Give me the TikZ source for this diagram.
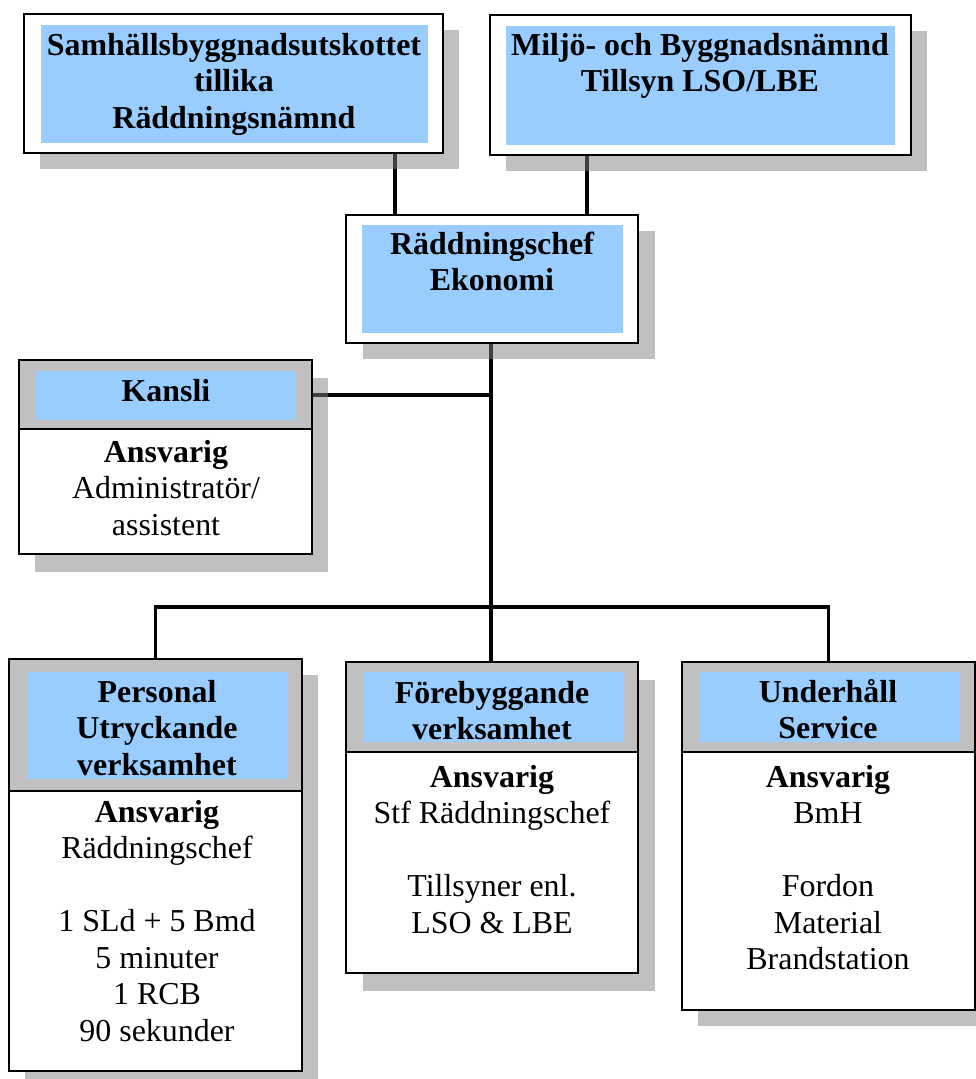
\documentclass[tikz,border=0pt]{standalone}
\usepackage{fontspec}
\setmainfont{Liberation Serif}
\usepackage{tikz}
\usetikzlibrary{calc}
\pgfdeclarelayer{edgelayer}
\pgfdeclarelayer{shadowlayer}
\pgfdeclarelayer{nodelayer}
\pgfsetlayers{edgelayer,shadowlayer,nodelayer,main}
\definecolor{boxblue}{RGB}{153,204,255}
\definecolor{headgray}{RGB}{192,192,192}
\tikzstyle{none}=[inner sep=0pt]
\tikzstyle{outer_box}=[fill=white, draw=black, line width=0.8pt, shape=rectangle, inner sep=0pt]
\tikzstyle{head_box}=[fill=headgray, draw=black, line width=0.8pt, shape=rectangle, inner sep=0pt]
\tikzstyle{blue_box}=[fill=boxblue, draw=none, shape=rectangle, inner sep=0pt]
\tikzstyle{shadow_box}=[fill={rgb,255: red,128; green,128; blue,128}, fill opacity=0.5, draw=none, shape=rectangle, inner sep=0pt]
\tikzstyle{head_text}=[inner sep=0pt, align=center, anchor=north, font=\bfseries]
\tikzstyle{body_text}=[inner sep=0pt, align=center, anchor=north]
\tikzstyle{main_connector}=[-, draw=black, line width=1.5pt]

\begin{document}
\fontsize{12}{13.7}\selectfont
\begin{tikzpicture}[x=0.376pt, y=-0.376pt]
    \useasboundingbox (0,0) rectangle (976,1079);
    \clip (0,0) rectangle (976,1079);
    \begin{pgfonlayer}{nodelayer}
        % top boards
        \node [style={outer_box}, minimum width=157.5pt, minimum height=52.3pt] (A) at (233.5, 83.5) {};
        \node [style={blue_box}, minimum width=145.5pt, minimum height=44.4pt] (Ab) at (234.5, 84) {};
        \node [style={outer_box}, minimum width=158.3pt, minimum height=52.6pt] (B) at (700.5, 85) {};
        \node [style={blue_box}, minimum width=146.3pt, minimum height=44.7pt] (Bb) at (700.5, 85.5) {};

        % chief
        \node [style={outer_box}, minimum width=109.8pt, minimum height=48.1pt] (C) at (492, 279) {};
        \node [style={blue_box}, minimum width=98.1pt, minimum height=40.6pt] (Cb) at (492.5, 279) {};

        % office
        \node [style={outer_box}, minimum width=110.2pt, minimum height=72.9pt] (D) at (165.5, 457) {};
        \node [style={head_box}, minimum width=110.2pt, minimum height=25.9pt] (Dh) at (165.5, 394.5) {};
        \node [style={blue_box}, minimum width=97.8pt, minimum height=18.4pt] (Db) at (166, 395.5) {};

        % departments
        \node [style={outer_box}, minimum width=110.2pt, minimum height=154.9pt] (E) at (155.5, 865) {};
        \node [style={head_box}, minimum width=110.2pt, minimum height=49.6pt] (Eh) at (155.5, 725) {};
        \node [style={blue_box}, minimum width=97.8pt, minimum height=40.2pt] (Eb) at (157, 725.5) {};

        \node [style={outer_box}, minimum width=109.8pt, minimum height=116.9pt] (F) at (492, 817.5) {};
        \node [style={head_box}, minimum width=109.8pt, minimum height=33.8pt] (Fh) at (492, 707) {};
        \node [style={blue_box}, minimum width=97.8pt, minimum height=26.3pt] (Fb) at (493, 707) {};

        \node [style={outer_box}, minimum width=110.2pt, minimum height=130.8pt] (G) at (828.5, 836) {};
        \node [style={head_box}, minimum width=110.2pt, minimum height=33.8pt] (Gh) at (828.5, 707) {};
        \node [style={blue_box}, minimum width=97.8pt, minimum height=26.3pt] (Gb) at (829, 707) {};
    \end{pgfonlayer}

    \begin{pgfonlayer}{shadowlayer}
        \node [style={shadow_box}, minimum width=157.5pt, minimum height=52.3pt] (As) at (249.5, 99.5) {};
        \node [style={shadow_box}, minimum width=158.3pt, minimum height=52.6pt] (Bs) at (716.5, 101) {};
        \node [style={shadow_box}, minimum width=109.8pt, minimum height=48.1pt] (Cs) at (509, 295) {};
        \node [style={shadow_box}, minimum width=110.2pt, minimum height=72.9pt] (Ds) at (181.5, 475) {};
        \node [style={shadow_box}, minimum width=110.2pt, minimum height=154.9pt] (Es) at (171.5, 881) {};
        \node [style={shadow_box}, minimum width=109.8pt, minimum height=116.9pt] (Fs) at (509, 835.5) {};
        \node [style={shadow_box}, minimum width=110.2pt, minimum height=130.8pt] (Gs) at (845, 852) {};
    \end{pgfonlayer}

    % texts
    \node [style={head_text}] (At) at (234, 29.5) {\strut Samhällsbyggnadsutskottet\\tillika\\Räddningsnämnd};
    \node [style={head_text}] (Bt) at (700, 29.5) {\strut Miljö- och Byggnadsnämnd\\Tillsyn LSO/LBE};
    \node [style={head_text}] (Ct) at (492, 228.5) {\strut Räddningschef\\Ekonomi};
    \node [style={head_text}] (Dt) at (166, 375.5) {\strut Kansli};
    \node [style={body_text}] (Dx) at (166, 436.5) {\strut\textbf{Ansvarig}\\Administratör/\\assistent};
    \node [style={head_text}] (Et) at (157, 676.5) {\strut Personal\\Utryckande\\verksamhet};
    \node [style={body_text}] (Ex) at (157, 796.5) {\strut\textbf{Ansvarig}\\Räddningschef\\[13.7pt]1 SLd + 5 Bmd\\5 minuter\\1 RCB\\90 sekunder};
    \node [style={head_text}] (Ft) at (492, 677.5) {\strut Förebyggande\\verksamhet};
    \node [style={body_text}] (Fx) at (492, 761.5) {\strut\textbf{Ansvarig}\\Stf Räddningschef\\[13.7pt]Tillsyner enl.\\LSO \& LBE};
    \node [style={head_text}] (Gt) at (828, 676.5) {\strut Underhåll\\Service};
    \node [style={body_text}] (Gx) at (828, 761.5) {\strut\textbf{Ansvarig}\\BmH\\[13.7pt]Fordon\\Material\\Brandstation};

    % docking points
    \coordinate (jA) at (395, 180);
    \coordinate (jB) at (587, 180);
    \coordinate (bus) at (491, 607);

    \begin{pgfonlayer}{edgelayer}
        \draw [style={main_connector}] (jA |- A.south) to (jA |- C.north);
        \draw [style={main_connector}] (jB |- B.south) to (jB |- C.north);
        \draw [style={main_connector}] (bus |- C.south) to (bus);
        \draw [style={main_connector}] (Dh.east) to (Dh.east -| bus);
        \draw [style={main_connector}] (E.north) |- (bus) -| (G.north);
        \draw [style={main_connector}] (bus) to (bus |- F.north);
    \end{pgfonlayer}
\end{tikzpicture}
\end{document}
